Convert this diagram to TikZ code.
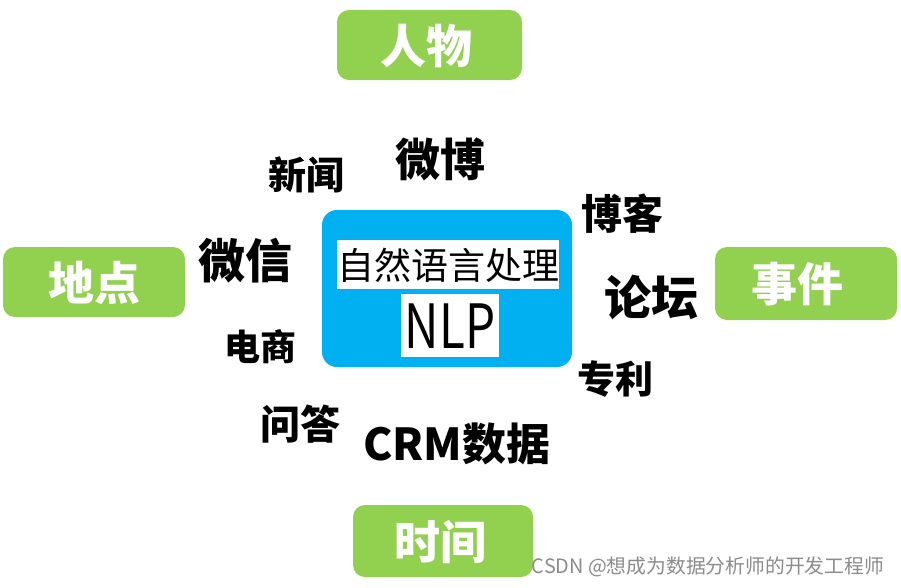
\documentclass[tikz,border=0pt]{standalone}
\usepackage{fontspec}
\usepackage{graphicx}
\newfontfamily\cjk{Noto Sans CJK SC}
\definecolor{tagGreen}{HTML}{92D050}
\definecolor{nlpBlue}{HTML}{00B0F0}
\definecolor{markGray}{HTML}{8C8C8C}
\tikzset{
  px/.style={x=1pt,y=-1pt},
  tagbox/.style={fill=tagGreen, rounded corners=12pt, draw=none},
  tagtext/.style={text=white, inner sep=0pt, font=\cjk\bfseries\fontsize{46}{50}\selectfont},
  word/.style={text=black, inner sep=0pt},
  whitebox/.style={fill=white, draw=none},
}
\newcommand{\wsize}[1]{\cjk\bfseries\fontsize{#1}{#1}\selectfont}
\begin{document}
\begin{tikzpicture}[px]
\useasboundingbox (0,0) rectangle (901,587);
\fill[white] (0,0) rectangle (901,587);
% green tag boxes
\fill[tagbox] (337,10) rectangle (522,80);
\fill[tagbox] (3,247) rectangle (185,317);
\fill[tagbox] (715,247) rectangle (897,320);
\fill[tagbox] (353,505) rectangle (533,577);
\node[tagtext] (person) at (426,46) {人物};
\node[tagtext] (place) at (94,283) {地点};
\node[tagtext] (event) at (797,284) {事件};
\node[tagtext] (time) at (440,542) {时间};
% central blue box
\fill[nlpBlue, rounded corners=15pt] (322,210) rectangle (572,367);
\fill[whitebox] (337,240) rectangle (559,289);
\fill[whitebox] (401,294) rectangle (499,357);
\node[inner sep=0pt, font=\cjk\fontsize{37}{40}\selectfont] (nlpzh) at (448,265) {自然语言处理};
\node[inner sep=0pt, font=\cjk\fontsize{61}{64}\selectfont] (nlpen) at (450,326) {\scalebox{0.78}[1]{NLP}};
% data source words
\node[word, font=\wsize{38}] (news) at (306,175) {新闻};
\node[word, font=\wsize{45}] (weibo) at (440,159) {微博};
\node[word, font=\wsize{47}] (wechat) at (245,261) {微信};
\node[word, font=\wsize{41}] (blog) at (622,214) {博客};
\node[word, font=\wsize{47}] (forum) at (651,298) {论坛};
\node[word, font=\wsize{36}] (ecom) at (260,347) {电商};
\node[word, font=\wsize{38}] (patent) at (615,379) {专利};
\node[word, font=\wsize{40}] (qa) at (300,424) {问答};
\node[word, font=\wsize{44}] (crm) at (457,444) {CRM数据};
% watermark
\node[inner sep=0pt, text=markGray, font=\cjk\fontsize{19.8}{22}\selectfont] (mark) at (708,567) {CSDN @想成为数据分析师的开发工程师};
\end{tikzpicture}
\end{document}
